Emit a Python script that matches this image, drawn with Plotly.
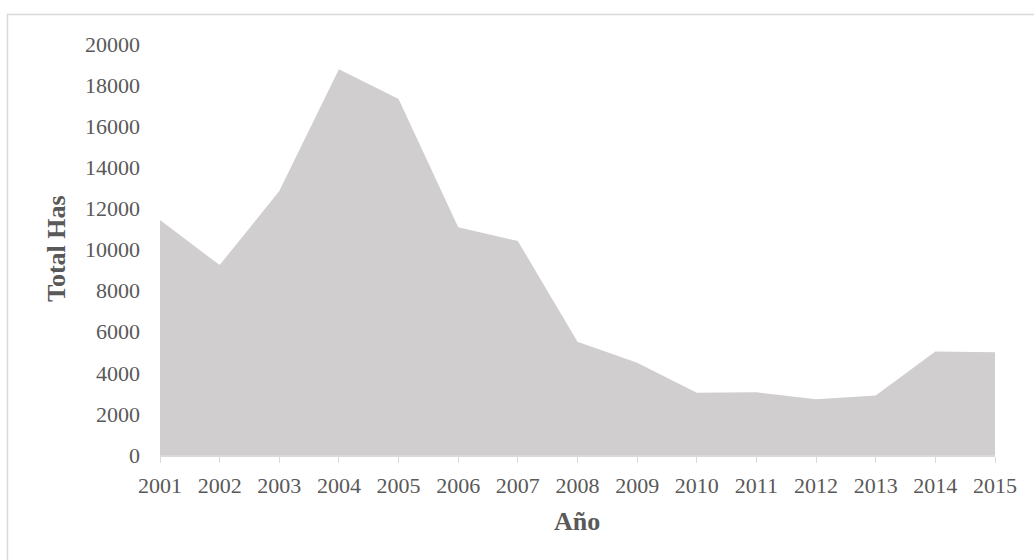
import plotly.graph_objects as go

# Superficie total (hectáreas) por año
years = [2001, 2002, 2003, 2004, 2005, 2006, 2007, 2008,
         2009, 2010, 2011, 2012, 2013, 2014, 2015]
total_has = [11430, 9240, 12850, 18770, 17320, 11080, 10410, 5510,
             4490, 3030, 3050, 2710, 2900, 5040, 5000]
y_ticks = [0, 2000, 4000, 6000, 8000, 10000, 12000, 14000, 16000, 18000, 20000]

W, H = 1034, 560
L, R, T, B = 160, 39, 44, 105
pw, ph = W - L - R, H - T - B

font_family = "Liberation Serif, Times New Roman, serif"
text_gray = "#595959"
tick_size = 22
title_size = 26

fig = go.Figure()
fig.add_trace(go.Scatter(
    x=years, y=total_has,
    mode="lines",
    line=dict(width=0, color="#d0cecf"),
    fill="tozeroy",
    fillcolor="#d0cecf",
    hoverinfo="x+y",
    showlegend=False,
))

fig.update_layout(
    width=W, height=H,
    margin=dict(l=L, r=R, t=T, b=B),
    paper_bgcolor="white",
    plot_bgcolor="white",
    font=dict(family=font_family, size=tick_size, color=text_gray),
    xaxis=dict(
        range=[years[0], years[-1]],
        tickmode="array",
        tickvals=years,
        ticktext=[str(y) for y in years],
        showgrid=False,
        zeroline=False,
        showline=True,
        linecolor="#d9d9d9",
        linewidth=1.5,
        ticks="outside",
        ticklen=6,
        tickcolor="#d9d9d9",
        tickwidth=1,
        ticklabelstandoff=4,
        tickfont=dict(family=font_family, size=tick_size, color=text_gray),
    ),
    yaxis=dict(
        range=[0, 20000],
        tickmode="array",
        tickvals=y_ticks,
        ticktext=[str(v) for v in y_ticks],
        showgrid=False,
        zeroline=False,
        showline=False,
        ticks="",
        ticklabelstandoff=19,
        tickfont=dict(family=font_family, size=tick_size, color=text_gray),
    ),
)

# Títulos de los ejes
fig.add_annotation(
    text="<b>Año</b>", xref="paper", yref="paper",
    x=(577 - L) / pw, y=(H - B - 521) / ph,
    showarrow=False, xanchor="center", yanchor="middle",
    font=dict(family=font_family, size=title_size, color=text_gray),
)
fig.add_annotation(
    text="<b>Total Has</b>", xref="paper", yref="paper",
    x=(57 - L) / pw, y=(H - B - 249) / ph,
    textangle=-90,
    showarrow=False, xanchor="center", yanchor="middle",
    font=dict(family=font_family, size=title_size, color=text_gray),
)

# Marco exterior del gráfico
fig.add_shape(
    type="rect", xref="paper", yref="paper",
    x0=(7.5 - L) / pw, x1=(1045 - L) / pw,
    y0=(H - B - 575) / ph, y1=(H - B - 14.5) / ph,
    line=dict(color="#d9d9d9", width=1.5),
    fillcolor="rgba(0,0,0,0)",
    layer="below",
)

fig.write_html("out.html")
